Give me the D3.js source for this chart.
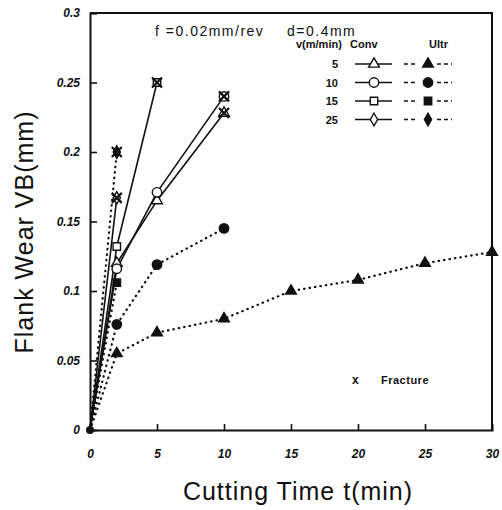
<!DOCTYPE html>
<html>
<head>
<meta charset="utf-8">
<script src="https://cdn.jsdelivr.net/npm/d3@7"></script>
<style>
  body { margin: 0; background: #fff; }
  text { font-family: "Liberation Sans", Arial, sans-serif; fill: #111; }
</style>
</head>
<body>
<div id="chart"></div>
<script>
// tick values and labels
var xTicks = [0, 5, 10, 15, 20, 25, 30];
var yTicks = [0, 0.05, 0.1, 0.15, 0.2, 0.25, 0.3];
var yTickLabels = ["0", "0.05", "0.1", "0.15", "0.2", "0.25", "0.3"];

// cutting speeds v (m/min)
var speeds = ["5", "10", "15", "25"];

// conventional cutting: time (min) and flank wear (mm)
var convTime5 = [0, 2, 5, 10];
var convWear5 = [0, 0.12, 0.165, 0.228];
var convTime10 = [0, 2, 5, 10];
var convWear10 = [0, 0.116, 0.171, 0.24];
var convTime15 = [0, 2, 5];
var convWear15 = [0, 0.132, 0.25];
var convTime25 = [0, 2];
var convWear25 = [0, 0.167];

// ultrasonic cutting
var ultrTime5 = [0, 2, 5, 10, 15, 20, 25, 30];
var ultrWear5 = [0, 0.055, 0.07, 0.08, 0.1, 0.108, 0.12, 0.128];
var ultrTime10 = [0, 2, 5, 10];
var ultrWear10 = [0, 0.076, 0.119, 0.145];
var ultrTime15 = [0, 2];
var ultrWear15 = [0, 0.106];
var ultrTime25 = [0, 2];
var ultrWear25 = [0, 0.2];

// fracture points
var fractureTime = [2, 2, 5, 10, 10];
var fractureWear = [0.2, 0.167, 0.25, 0.24, 0.228];

var svgWidth = 502;
var svgHeight = 510;
var margin = { top: 13, right: 10, bottom: 80, left: 90 };
var width = svgWidth - margin.left - margin.right;
var height = svgHeight - margin.top - margin.bottom;

var svg = d3.select("#chart")
  .append("svg")
  .attr("width", svgWidth)
  .attr("height", svgHeight);

var chartGroup = svg.append("g")
  .attr("transform", `translate(${margin.left}, ${margin.top})`);

var xScale = d3.scaleLinear().domain([0, 30]).range([0, width]);
var yScale = d3.scaleLinear().domain([0, 0.3]).range([height, 0]);

// axes with inward ticks
var bottomAxis = d3.axisBottom(xScale).tickValues(xTicks).tickSize(-6).tickPadding(19)
  .tickFormat(d3.format("d"));
var leftAxis = d3.axisLeft(yScale).tickValues(yTicks).tickSize(-7).tickPadding(10)
  .tickFormat((d, i) => yTickLabels[i]);

var xAxisG = chartGroup.append("g")
  .attr("transform", `translate(0, ${height})`)
  .call(bottomAxis);
var yAxisG = chartGroup.append("g").call(leftAxis);

[xAxisG, yAxisG].forEach(function(g) {
  g.select(".domain").attr("stroke", "#111").attr("stroke-width", 2);
  g.selectAll(".tick line").attr("stroke", "#111").attr("stroke-width", 1.6);
  g.selectAll(".tick text")
    .attr("font-size", 12)
    .attr("font-weight", "bold")
    .attr("font-style", "italic")
    .attr("fill", "#111");
});
yAxisG.selectAll(".tick").filter(d => d === 0).select("line").remove();
xAxisG.selectAll(".tick").filter(d => d === 0 || d === 30).select("line").remove();

// top and right frame
chartGroup.append("path")
  .attr("d", `M0,0 H${width} V${height}`)
  .attr("fill", "none")
  .attr("stroke", "#111")
  .attr("stroke-width", 2);

var line = d3.line().x(d => xScale(d[0])).y(d => yScale(d[1]));

var series = [
  { t: ultrTime5, w: ultrWear5, sym: d3.symbolTriangle, filled: true },
  { t: ultrTime10, w: ultrWear10, sym: d3.symbolCircle, filled: true },
  { t: ultrTime15, w: ultrWear15, sym: d3.symbolSquare, filled: true },
  { t: ultrTime25, w: ultrWear25, sym: d3.symbolDiamond, filled: true },
  { t: convTime5, w: convWear5, sym: d3.symbolTriangle, filled: false },
  { t: convTime10, w: convWear10, sym: d3.symbolCircle, filled: false },
  { t: convTime15, w: convWear15, sym: d3.symbolSquare, filled: false },
  { t: convTime25, w: convWear25, sym: d3.symbolDiamond, filled: false }
];

function symbolPath(sym) {
  var size = sym === d3.symbolDiamond ? 45 : sym === d3.symbolSquare ? 55 : sym === d3.symbolTriangle ? 50 : 70;
  return d3.symbol().type(sym).size(size)();
}

series.forEach(function(s) {
  var pts = s.t.map((t, i) => [t, s.w[i]]);
  chartGroup.append("path")
    .datum(pts)
    .attr("d", line)
    .attr("fill", "none")
    .attr("stroke", "#111")
    .attr("stroke-width", s.filled ? 2.2 : 1.6)
    .attr("stroke-linecap", "round")
    .attr("stroke-dasharray", s.filled ? "0.5,5" : null);
});

series.forEach(function(s) {
  var pts = s.t.map((t, i) => [t, s.w[i]]).filter(d => d[0] > 0);
  chartGroup.selectAll(null)
    .data(pts)
    .enter()
    .append("path")
    .attr("d", symbolPath(s.sym))
    .attr("transform", d => `translate(${xScale(d[0])}, ${yScale(d[1])})`)
    .attr("fill", s.filled ? "#111" : "#fff")
    .attr("stroke", "#111")
    .attr("stroke-width", 1.4);
});

// origin dot
chartGroup.append("circle")
  .attr("cx", xScale(0)).attr("cy", yScale(0)).attr("r", 4).attr("fill", "#111");

// fracture crosses
var crossPath = "M-5,-5L5,5M-5,5L5,-5";
chartGroup.selectAll(null)
  .data(fractureTime.map((t, i) => [t, fractureWear[i]]))
  .enter()
  .append("path")
  .attr("d", crossPath)
  .attr("transform", d => `translate(${xScale(d[0])}, ${yScale(d[1])})`)
  .attr("stroke", "#111")
  .attr("stroke-width", 2.2)
  .attr("fill", "none");

// cutting conditions
svg.append("text")
  .attr("x", 155).attr("y", 36)
  .attr("font-size", 14).attr("letter-spacing", 1.5)
  .text("f =0.02mm/rev");
svg.append("text")
  .attr("x", 287).attr("y", 36)
  .attr("font-size", 14).attr("letter-spacing", 1.5)
  .text("d=0.4mm");

// legend
var legend = svg.append("g");
legend.append("text").attr("x", 296).attr("y", 48).attr("font-size", 11).attr("font-weight", "bold")
  .text("v(m/min)");
legend.append("text").attr("x", 350).attr("y", 48).attr("font-size", 11).attr("font-weight", "bold")
  .text("Conv");
legend.append("text").attr("x", 429).attr("y", 48).attr("font-size", 11).attr("font-weight", "bold")
  .text("Ultr");

var legendSyms = [d3.symbolTriangle, d3.symbolCircle, d3.symbolSquare, d3.symbolDiamond];
speeds.forEach(function(v, i) {
  var y = 64 + i * 18.5;
  legend.append("text").attr("x", 338).attr("y", y + 4).attr("text-anchor", "end")
    .attr("font-size", 11).attr("font-weight", "bold").text(v);
  legend.append("line").attr("x1", 355).attr("x2", 392).attr("y1", y).attr("y2", y)
    .attr("stroke", "#111").attr("stroke-width", 1.6);
  legend.append("path").attr("d", symbolPath(legendSyms[i]))
    .attr("transform", `translate(374, ${y})`)
    .attr("fill", "#fff").attr("stroke", "#111").attr("stroke-width", 1.4);
  legend.append("line").attr("x1", 404).attr("x2", 452).attr("y1", y).attr("y2", y)
    .attr("stroke", "#111").attr("stroke-width", 1.6).attr("stroke-dasharray", "4,3,4,22,4,3");
  legend.append("path").attr("d", symbolPath(legendSyms[i]))
    .attr("transform", `translate(428, ${y})`)
    .attr("fill", "#111").attr("stroke", "#111").attr("stroke-width", 1.4);
});

legend.append("text").attr("x", 352).attr("y", 384).attr("font-size", 12).attr("font-weight", "bold")
  .text("x");
legend.append("text").attr("x", 381).attr("y", 384).attr("font-size", 11).attr("font-weight", "bold")
  .attr("letter-spacing", 0.5)
  .text("Fracture");

// axis titles
svg.append("text")
  .attr("x", 298).attr("y", 500)
  .attr("text-anchor", "middle")
  .attr("font-size", 25).attr("letter-spacing", 1)
  .text("Cutting Time  t(min)");

svg.append("text")
  .attr("transform", "translate(33, 232) rotate(-90)")
  .attr("text-anchor", "middle")
  .attr("font-size", 25).attr("letter-spacing", 1)
  .text("Flank Wear  VB(mm)");
</script>
</body>
</html>
